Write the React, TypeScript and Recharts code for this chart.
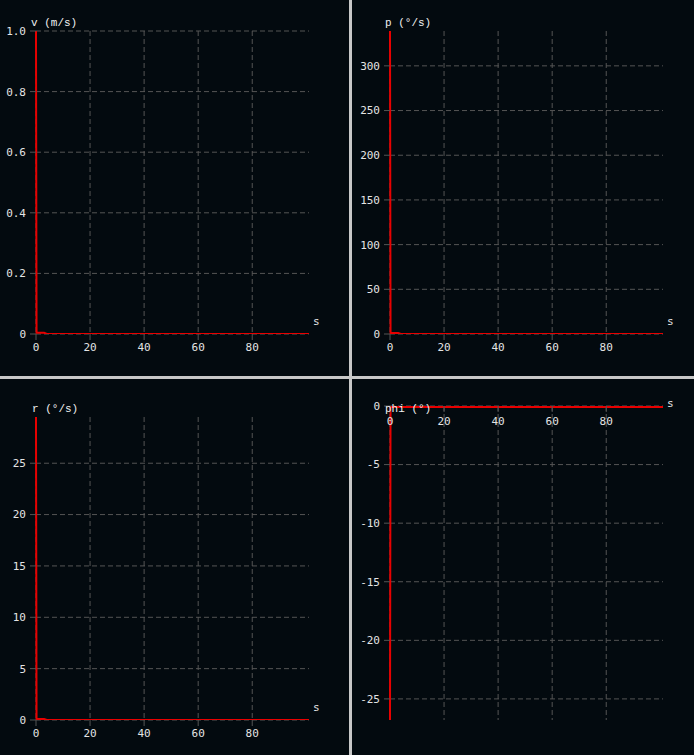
import React from "react";
import { LineChart, Line, XAxis, YAxis, CartesianGrid } from "recharts";

const time = [0, 0.2, 3, 4, 101];
const vValues = [1.0, 0.004, 0.004, 0, 0];
const pValues = [339, 1.2, 1.2, 0, 0];
const rValues = [29.5, 0.1, 0.1, 0, 0];
const phiValues = [-26.8, -0.08, -0.08, -0.08, -0.08];

const xTicks = [0, 20, 40, 60, 80];
const vTicks = [0, 0.2, 0.4, 0.6, 0.8, 1.0];
const pTicks = [0, 50, 100, 150, 200, 250, 300];
const rTicks = [0, 5, 10, 15, 20, 25];
const phiTicks = [0, -5, -10, -15, -20, -25];

const titles = ["v (m/s)", "p (°/s)", "r (°/s)", "phi (°)"];
const xUnit = "s";

const BG = "#030a0f";
const SEP = "#c8c8c8";
const GRID = "#555555";
const AXIS = "#555555";
const TICK_TEXT = "#e4e4e4";
const RED = "#e80000";
const TICK_FONT = "'DejaVu Sans Mono', monospace";
const TITLE_FONT = "'Liberation Mono', 'Courier New', monospace";

type PanelProps = {
  left: number;
  top: number;
  width: number;
  height: number;
  margin: { top: number; right: number; bottom: number; left: number };
  yWidth: number;
  domain: [number, number];
  ticks: number[];
  values: number[];
  fmt: (v: number) => string;
  xTop?: boolean;
  xHeight: number;
  xTickMargin: number;
};

function scaleOf(axis: any): ((v: number) => number) | null {
  if (!axis) return null;
  const s = axis.scale;
  if (typeof s === "function") return s;
  if (s && typeof s.map === "function") return (v: number) => s.map(v);
  return null;
}

function Panel(p: PanelProps) {
  const data = time.map((t, i) => ({ t, y: p.values[i] }));
  const tickStyle = { fill: TICK_TEXT, fontFamily: TICK_FONT, fontSize: 11 };
  const vGen = (props: any) => {
    const s = scaleOf(props && props.xAxis);
    if (!s) return [];
    return xTicks.map((t) => s(t));
  };
  const hGen = (props: any) => {
    const s = scaleOf(props && props.yAxis);
    if (!s) return [];
    return p.ticks.map((t) => s(t));
  };
  return (
    <div
      style={{
        position: "absolute",
        left: p.left,
        top: p.top,
        width: p.width,
        height: p.height,
        background: BG,
      }}
    >
      <LineChart width={p.width} height={p.height} data={data} margin={p.margin}>
        <CartesianGrid
          stroke={GRID}
          strokeDasharray="5 3"
          verticalCoordinatesGenerator={vGen}
          horizontalCoordinatesGenerator={hGen}
        />
        <XAxis
          type="number"
          dataKey="t"
          domain={[0, 101]}
          ticks={xTicks}
          orientation={p.xTop ? "top" : "bottom"}
          mirror={!!p.xTop}
          height={p.xHeight}
          axisLine={false}
          tickLine={{ stroke: AXIS }}
          tick={tickStyle}
          tickSize={6}
          tickMargin={p.xTickMargin}
          interval={0}
        />
        <YAxis
          type="number"
          domain={p.domain}
          ticks={p.ticks}
          width={p.yWidth}
          axisLine={false}
          tickLine={{ stroke: AXIS }}
          tick={tickStyle}
          tickSize={6}
          tickMargin={4}
          tickFormatter={p.fmt}
          interval={0}
          allowDataOverflow
        />
        <Line
          type="linear"
          dataKey="y"
          stroke={RED}
          strokeWidth={2}
          dot={false}
          isAnimationActive={false}
        />
      </LineChart>
    </div>
  );
}

const fmtV = (v: number) => (v === 0 ? "0" : v.toFixed(1));
const fmtInt = (v: number) => String(v);

export default function App() {
  return (
    <div
      style={{
        position: "absolute",
        left: 0,
        top: 0,
        width: 694,
        height: 755,
        background: SEP,
        overflow: "hidden",
      }}
    >
      <Panel
        left={0}
        top={0}
        width={349}
        height={376}
        margin={{ top: 31, right: 40, bottom: 12, left: 0 }}
        yWidth={36}
        domain={[0, 1]}
        ticks={vTicks}
        values={vValues}
        fmt={fmtV}
        xHeight={30}
        xTickMargin={3}
      />
      <Panel
        left={352}
        top={0}
        width={342}
        height={376}
        margin={{ top: 31, right: 31, bottom: 12, left: 0 }}
        yWidth={38}
        domain={[0, 339]}
        ticks={pTicks}
        values={pValues}
        fmt={fmtInt}
        xHeight={30}
        xTickMargin={3}
      />
      <Panel
        left={0}
        top={379}
        width={349}
        height={376}
        margin={{ top: 38, right: 40, bottom: 5, left: 0 }}
        yWidth={36}
        domain={[0, 29.5]}
        ticks={rTicks}
        values={rValues}
        fmt={fmtInt}
        xHeight={30}
        xTickMargin={3}
      />
      <Panel
        left={352}
        top={379}
        width={342}
        height={376}
        margin={{ top: 27, right: 31, bottom: 35, left: 0 }}
        yWidth={38}
        domain={[-26.8, 0]}
        ticks={phiTicks}
        values={phiValues}
        fmt={fmtInt}
        xTop
        xHeight={10}
        xTickMargin={5}
      />
      <svg
        width={694}
        height={755}
        style={{ position: "absolute", left: 0, top: 0, pointerEvents: "none" }}
      >
        <g fontFamily={TITLE_FONT} fontSize={11} fill="#f0f0f0">
          <text x={31} y={26}>{titles[0]}</text>
          <text x={385} y={26}>{titles[1]}</text>
          <text x={32} y={412}>{titles[2]}</text>
          <text x={385} y={412}>{titles[3]}</text>
        </g>
        <g fontFamily={TICK_FONT} fontSize={11} fill={TICK_TEXT}>
          <text x={313} y={325}>{xUnit}</text>
          <text x={667} y={325}>{xUnit}</text>
          <text x={313} y={711}>{xUnit}</text>
          <text x={667} y={407}>{xUnit}</text>
        </g>
      </svg>
    </div>
  );
}
